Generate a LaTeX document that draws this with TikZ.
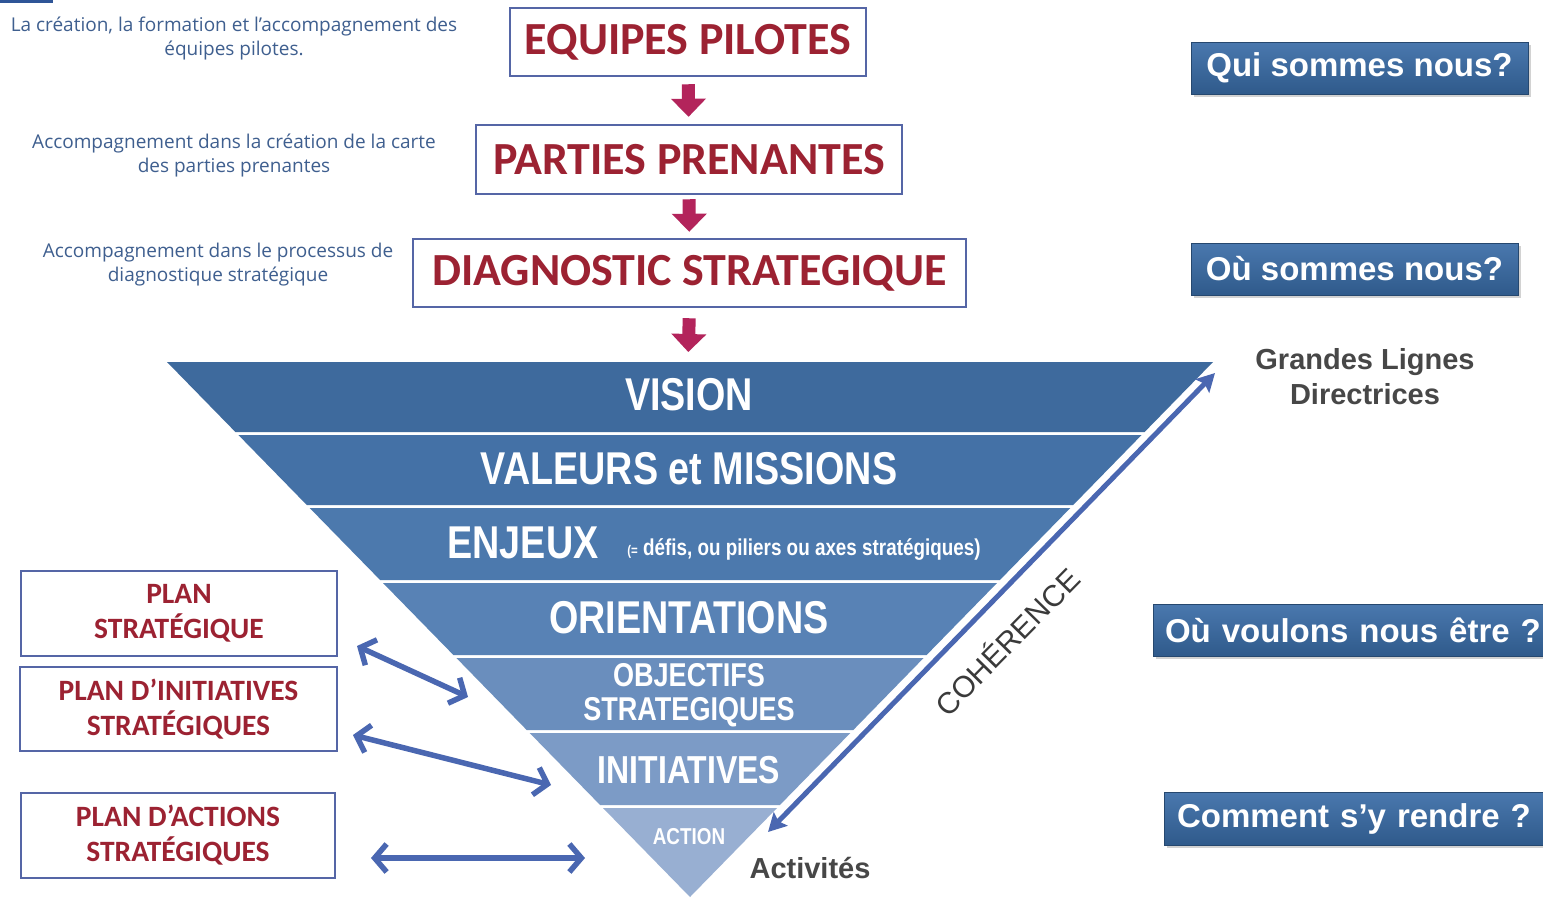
\documentclass[tikz,border=0pt]{standalone}
\usepackage{fontspec}
\setmainfont{Liberation Sans}
\newfontfamily\carl{Carlito}
\newfontfamily\narrowf[FakeStretch=0.82]{Liberation Sans}
\newfontfamily\osans{Open Sans}
\usetikzlibrary{arrows.meta,shadows}
\definecolor{darkred}{HTML}{9C2232}
\definecolor{boxborder}{HTML}{5566A6}
\definecolor{crimson}{HTML}{B3245B}
\definecolor{desctext}{HTML}{3F5F8F}
\definecolor{qtop}{HTML}{4A78AE}
\definecolor{qbot}{HTML}{2F5A8B}
\definecolor{arrowblue}{HTML}{4A67B1}
\definecolor{graytext}{HTML}{474747}
\definecolor{cohtext}{HTML}{3A3A3A}
\definecolor{bandA}{HTML}{3E6A9D}
\definecolor{bandB}{HTML}{4471A6}
\definecolor{bandC}{HTML}{4C79AD}
\definecolor{bandD}{HTML}{5882B5}
\definecolor{bandE}{HTML}{6A8EBD}
\definecolor{bandF}{HTML}{7C9BC6}
\definecolor{bandG}{HTML}{98AFD2}
\definecolor{topbar}{HTML}{2F5597}
\tikzset{
  topbox/.style={draw=boxborder, line width=2.5pt, fill=white, text=darkred, font=\carl\bfseries\fontsize{46}{50}\selectfont, inner sep=0pt},
  planbox/.style={draw=boxborder, line width=2.5pt, fill=white, text=darkred, font=\carl\bfseries\fontsize{29.5}{35}\selectfont, align=center, inner sep=0pt},
  qbox/.style={top color=qtop, bottom color=qbot, draw=qbot!80!black, line width=0.8pt, text=white, font=\bfseries\fontsize{33}{38}\selectfont, inner sep=0pt, drop shadow={shadow xshift=3pt, shadow yshift=-3pt, opacity=0.35}},
  desc/.style={text=desctext, font=\osans\fontsize{19}{24}\selectfont, align=center, inner sep=0pt},
  bandtext/.style={text=white, font=\narrowf\bfseries\fontsize{46}{50}\selectfont, inner sep=0pt, align=center},
  bigarrow/.style={crimson, line width=13pt, -{Triangle[width=34pt,length=18pt]}},
  dblarrow/.style={arrowblue, line width=5.5pt, {Straight Barb[length=12pt,width=28pt]}-{Straight Barb[length=12pt,width=28pt]}},
  graylabel/.style={text=graytext, font=\bfseries\fontsize{29}{35}\selectfont, align=center, inner sep=0pt},
}
\begin{document}
\begin{tikzpicture}[x=1pt,y=-1pt]
\useasboundingbox (0,0) rectangle (1543,900);
\clip (0,0) rectangle (1543,900);
\fill[white] (0,0) rectangle (1543,900);
\fill[topbar] (0,0) rectangle (53,3);

% description texts
\node[desc] (d1) at (234,39) {La création, la formation et l’accompagnement des\\équipes pilotes.};
\node[desc] (d2) at (234,155) {Accompagnement dans la création de la carte\\des parties prenantes};
\node[desc] (d3) at (218,265) {Accompagnement dans le processus de\\diagnostique stratégique};

% top boxes
\node[topbox, minimum width=356, minimum height=68] (equipes) at (688,42) {EQUIPES PILOTES};
\node[topbox, minimum width=426, minimum height=69] (parties) at (689,159.5) {PARTIES PRENANTES};
\node[topbox, minimum width=553, minimum height=68] (diag) at (689.5,273) {DIAGNOSTIC STRATEGIQUE};
\coordinate (tritop) at (688,362);

\draw[bigarrow, shorten <=7pt, shorten >=7pt] (equipes) -- (parties);
\draw[bigarrow, shorten <=4pt, shorten >=6pt] (parties) -- (diag);
\draw[bigarrow, shorten <=10pt, shorten >=10pt] (diag.south) -- (tritop);

% triangle bands
\fill[bandA] (167,362) -- (1213,362) -- (1144.6,432) -- (235.4,432) -- cycle;
\fill[bandB] (238.4,435) -- (1141.6,435) -- (1073.2,505) -- (306.8,505) -- cycle;
\fill[bandC] (309.7,508) -- (1070.3,508) -- (999.9,580) -- (380.1,580) -- cycle;
\fill[bandD] (383,583) -- (997,583) -- (926.6,655) -- (453.4,655) -- cycle;
\fill[bandE] (456.4,658) -- (923.6,658) -- (853.3,730) -- (526.7,730) -- cycle;
\fill[bandF] (529.7,733) -- (850.3,733) -- (779.9,805) -- (600.1,805) -- cycle;
\fill[bandG] (603,808) -- (777,808) -- (690,897) -- cycle;

\node[bandtext] (vision) at (689,395) {VISION};
\node[bandtext] (valeurs) at (689,469) {VALEURS et MISSIONS};
\node[bandtext] (enjeux) at (523,543) {ENJEUX};
\node[bandtext, font=\narrowf\bfseries\fontsize{23}{25}\selectfont] (enjeuxnote) at (804,549) {{\fontsize{14}{16}\selectfont(=} défis, ou piliers ou axes stratégiques)};
\node[bandtext] (orient) at (689,618) {ORIENTATIONS};
\node[bandtext, font=\narrowf\bfseries\fontsize{33}{34}\selectfont] (objectifs) at (689,695) {OBJECTIFS\\STRATEGIQUES};
\node[bandtext, font=\narrowf\bfseries\fontsize{39}{42}\selectfont] (initiatives) at (689,770) {INITIATIVES};
\node[bandtext, font=\narrowf\bfseries\fontsize{23}{26}\selectfont] (action) at (689,837) {ACTION};

% coherence arrow
\coordinate (coh1) at (768,832);
\coordinate (coh2) at (1215,373);
\draw[white, line width=11pt] (coh1) -- (coh2);
\draw[arrowblue, line width=5pt, {Stealth[length=18pt,width=19pt,inset=3pt]}-{Stealth[length=18pt,width=19pt,inset=3pt]}] (coh1) -- (coh2);
\node[text=cohtext, font=\fontsize{30}{34}\selectfont, rotate=45.5, inner sep=0pt] (coh) at (1006,641) {COHÉRENCE};

% right labels
\node[qbox, minimum width=337, minimum height=52] (qui) at (1359.5,68) {Qui sommes nous?};
\node[qbox, minimum width=327, minimum height=52] (ou) at (1354.5,269) {Où sommes nous?};
\node[qbox, minimum width=394, minimum height=52, text width=370, align=left] (voulons) at (1350,630) {\mbox{Où voulons nous être~?}};
\node[qbox, minimum width=386, minimum height=53, text width=360, align=left] (comment) at (1357,818.5) {\mbox{Comment s’y rendre~?}};
\node[graylabel] (grandes) at (1365,377) {Grandes Lignes\\Directrices};
\node[graylabel] (activites) at (810,868) {Activités};

% plan boxes
\node[planbox, minimum width=316, minimum height=85] (plan1) at (179,613.5) {PLAN\\STRATÉGIQUE};
\node[planbox, minimum width=317, minimum height=84] (plan2) at (178.5,709) {PLAN D’INITIATIVES\\STRATÉGIQUES};
\node[planbox, minimum width=314, minimum height=85] (plan3) at (178,835.5) {PLAN D’ACTIONS\\STRATÉGIQUES};

\coordinate (a1s) at (357,646);
\coordinate (a1e) at (468,697);
\coordinate (a2s) at (353,735);
\coordinate (a2e) at (551,785);
\coordinate (a3s) at (371,858);
\coordinate (a3e) at (585,858);
\draw[dblarrow] (a1s) -- (a1e);
\draw[dblarrow] (a2s) -- (a2e);
\draw[dblarrow] (a3s) -- (a3e);
\end{tikzpicture}
\end{document}
